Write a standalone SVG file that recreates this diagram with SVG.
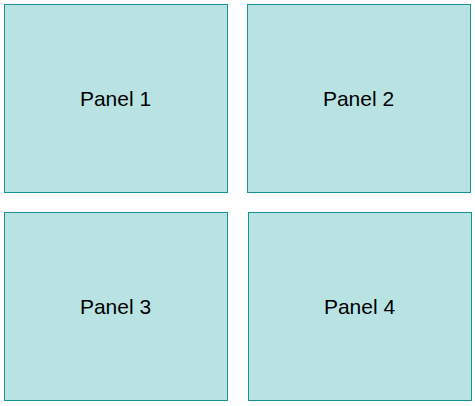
<svg xmlns="http://www.w3.org/2000/svg" width="475" height="406" viewBox="0 0 475 406">
<style>
.panel rect{fill:#b9e3e3;stroke:#179292;stroke-width:1}
.panel text{font-family:"Liberation Sans",Arial,sans-serif;font-size:21px;fill:#000;text-anchor:middle}
</style>
<rect width="475" height="406" fill="#fff"/>
<g id="panel1" class="panel"><rect x="4.5" y="4.5" width="223" height="188"/><text x="115.5" y="105.5">Panel 1</text></g>
<g id="panel2" class="panel"><rect x="247.5" y="4.5" width="223" height="188"/><text x="358.5" y="105.5">Panel 2</text></g>
<g id="panel3" class="panel"><rect x="4.5" y="212.5" width="223" height="188"/><text x="115.5" y="313.5">Panel 3</text></g>
<g id="panel4" class="panel"><rect x="248.5" y="212.5" width="223" height="188"/><text x="359.5" y="313.5">Panel 4</text></g>
<g id="connectors"></g>
</svg>
